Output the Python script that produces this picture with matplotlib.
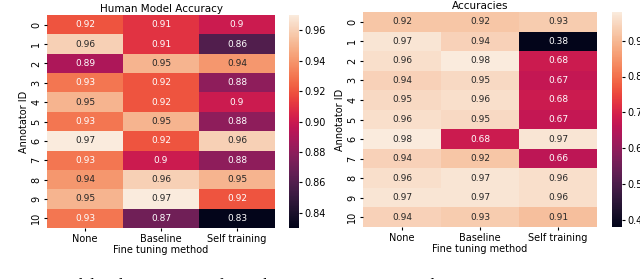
import numpy as np
import matplotlib
matplotlib.use('Agg')
import matplotlib.pyplot as plt
import seaborn as sns

methods = ['None', 'Baseline', 'Self training']
annotators = [str(i) for i in range(11)]

# Human Model Accuracy (rows = annotator 0..10)
human_none = [0.92, 0.96, 0.89, 0.93, 0.95, 0.93, 0.97, 0.93, 0.94, 0.95, 0.93]
human_base = [0.91, 0.91, 0.95, 0.92, 0.92, 0.95, 0.92, 0.90, 0.96, 0.97, 0.87]
human_self = [0.90, 0.86, 0.94, 0.88, 0.90, 0.88, 0.96, 0.88, 0.95, 0.92, 0.83]

# Accuracies
acc_none = [0.92, 0.97, 0.96, 0.94, 0.95, 0.96, 0.98, 0.94, 0.96, 0.97, 0.94]
acc_base = [0.92, 0.94, 0.98, 0.95, 0.96, 0.95, 0.68, 0.92, 0.97, 0.97, 0.93]
acc_self = [0.93, 0.38, 0.68, 0.67, 0.68, 0.67, 0.97, 0.66, 0.96, 0.96, 0.91]

W, H = 640, 279
fig = plt.figure(figsize=(W / 100, H / 100), dpi=100)


def px(x0, y0, x1, y1):
    # pixel box (top-left origin) -> figure fraction
    return [x0 / W, (H - y1) / H, (x1 - x0) / W, (y1 - y0) / H]


def draw(ax, cax, cols, title, ticks):
    data = np.array(cols).T
    sns.heatmap(data, ax=ax, cbar_ax=cax, cmap='rocket', annot=True, fmt='.2g',
                annot_kws={'fontsize': 6.5}, xticklabels=methods,
                yticklabels=annotators)
    ax.set_title(title, fontsize=7.5, pad=2)
    ax.set_xlabel('Fine tuning method', fontsize=7, labelpad=1)
    ax.set_ylabel('Annotator ID', fontsize=7, labelpad=2)
    ax.tick_params(labelsize=7, length=2.5, pad=1.5)
    plt.setp(ax.get_yticklabels(), rotation=90, va='center')
    plt.setp(ax.get_xticklabels(), rotation=0)
    cax.set_yticks(ticks)
    cax.tick_params(labelsize=7, length=2.5, pad=1.5)


ax1 = fig.add_axes(px(47, 15, 275, 228))
cax1 = fig.add_axes(px(289, 15, 299, 228))
draw(ax1, cax1, [human_none, human_base, human_self], 'Human Model Accuracy',
     [0.84, 0.86, 0.88, 0.90, 0.92, 0.94, 0.96])

ax2 = fig.add_axes(px(363, 12, 597, 227))
cax2 = fig.add_axes(px(612, 12, 622, 227))
draw(ax2, cax2, [acc_none, acc_base, acc_self], 'Accuracies',
     [0.4, 0.5, 0.6, 0.7, 0.8, 0.9])

# caption of the paper, cut off at the bottom edge (only ascenders show)
fig.text(0.0, 1.0 / H, "Human model and test accuracy for each annotator. Fine tuning doesn't",
         fontsize=12, family='Liberation Serif', va='top', ha='left')

fig.savefig('out.png', dpi=100)
